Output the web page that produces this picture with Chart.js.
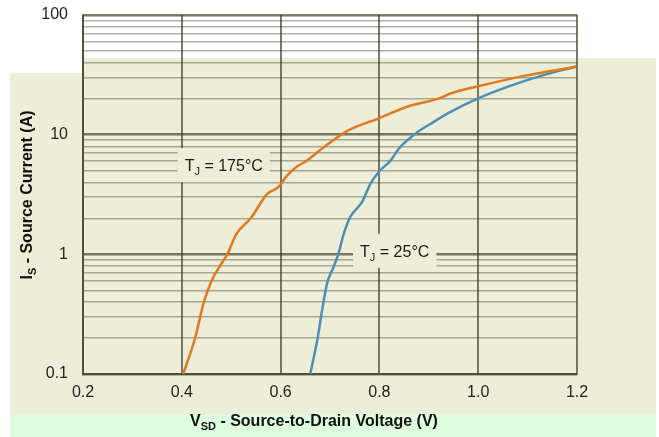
<!DOCTYPE html>
<html>
<head>
<meta charset="utf-8">
<script src="https://cdn.jsdelivr.net/npm/chart.js@4.4.1/dist/chart.umd.min.js"></script>
<style>
  html, body { margin: 0; padding: 0; background: #fff; }
  #wrap { width: 659px; height: 437px; }
</style>
</head>
<body>
<div id="wrap"><canvas id="chart" width="659" height="437"></canvas></div>
<script>
// values
const voltage175 = [0.403, 0.427, 0.444, 0.461, 0.478, 0.491, 0.511, 0.539, 0.573, 0.596, 0.610, 0.630, 0.654, 0.688, 0.738, 0.799, 0.856, 0.924, 0.944, 1.002, 1.093, 1.198];
const current175 = [0.1, 0.20, 0.39, 0.61, 0.81, 0.98, 1.49, 1.99, 3.2, 3.66, 4.4, 5.3, 6.1, 7.9, 10.9, 13.7, 17.1, 20.3, 22.1, 25.5, 31, 37];

const voltage25 = [0.660, 0.674, 0.684, 0.694, 0.707, 0.717, 0.728, 0.741, 0.765, 0.782, 0.799, 0.823, 0.840, 0.873, 0.910, 0.944, 1.002, 1.059, 1.127, 1.198];
const current25 = [0.1, 0.19, 0.34, 0.57, 0.78, 1.01, 1.49, 2.05, 2.74, 3.9, 4.9, 6.1, 7.7, 10.2, 12.8, 15.5, 20.3, 25.1, 31, 37];

const xTickValues = [0.2, 0.4, 0.6, 0.8, 1.0, 1.2];
const xTickLabels = ['0.2', '0.4', '0.6', '0.8', '1.0', '1.2'];
const yTickValues = [0.1, 0.2, 0.3, 0.4, 0.5, 0.6, 0.7, 0.8, 0.9,
                     1, 2, 3, 4, 5, 6, 7, 8, 9,
                     10, 20, 30, 40, 50, 60, 70, 80, 90, 100];
const yTickLabels = { 0.1: '0.1', 1: '1', 10: '10', 100: '100' };

const annotations = [
  { x: 0.485, y: 5.56, main: 'T', sub: 'J', rest: ' = 175°C' },
  { x: 0.831, y: 1.07, main: 'T', sub: 'J', rest: ' = 25°C' }
];

const BEIGE = '#eeeed8';
const FONT = '"Liberation Sans", Arial, sans-serif';
const MAJOR = 'rgba(60,60,40,0.68)';
const MINOR = 'rgba(60,60,40,0.40)';

function isDecade(v) {
  const l = Math.log10(v);
  return Math.abs(l - Math.round(l)) < 1e-6;
}

// draws main text + subscript + rest, returns width (or just measures)
function drawSubText(ctx, x, y, main, sub, rest, size, bold, measureOnly) {
  const w = bold ? 'bold ' : '';
  const subSize = Math.round(size * 0.68);
  ctx.font = `${w}${size}px ${FONT}`;
  const w1 = ctx.measureText(main).width;
  const w3 = ctx.measureText(rest).width;
  ctx.font = `${w}${subSize}px ${FONT}`;
  const w2 = ctx.measureText(sub).width;
  if (!measureOnly) {
    ctx.textAlign = 'left';
    ctx.textBaseline = 'alphabetic';
    ctx.font = `${w}${size}px ${FONT}`;
    ctx.fillText(main, x, y);
    ctx.font = `${w}${subSize}px ${FONT}`;
    ctx.fillText(sub, x + w1, y + size * 0.27);
    ctx.font = `${w}${size}px ${FONT}`;
    ctx.fillText(rest, x + w1 + w2, y);
  }
  return w1 + w2 + w3;
}

const backdrop = {
  id: 'backdrop',
  beforeDraw(chart) {
    const ctx = chart.ctx;
    ctx.save();
    ctx.fillStyle = '#ffffff';
    ctx.fillRect(0, 0, chart.width, chart.height);
    ctx.fillStyle = BEIGE;
    ctx.fillRect(10, 73, 646, 342);
    ctx.fillRect(83, 58, 573, 16);
    ctx.fillStyle = '#defcde';
    ctx.fillRect(10, 415, 646, 22);
    ctx.restore();
  }
};

const labels = {
  id: 'labels',
  beforeDatasetsDraw(chart) {
    const ctx = chart.ctx;
    const xs = chart.scales.x, ys = chart.scales.y;
    ctx.save();
    annotations.forEach(a => {
      const cx = xs.getPixelForValue(a.x);
      const cy = ys.getPixelForValue(a.y);
      const tw = drawSubText(ctx, 0, 0, a.main, a.sub, a.rest, 16, false, true);
      ctx.fillStyle = BEIGE;
      ctx.fillRect(cx - tw / 2 - 7, cy - 17, tw + 14, 34);
      ctx.fillStyle = '#1a1a1a';
      drawSubText(ctx, cx - tw / 2, cy + 6, a.main, a.sub, a.rest, 16, false, false);
    });
    ctx.restore();
  },
  afterDraw(chart) {
    const ctx = chart.ctx;
    ctx.save();
    ctx.fillStyle = '#111';
    // x title
    drawSubText(ctx, 190, 426, 'V', 'SD', ' - Source-to-Drain Voltage (V)', 16, true, false);
    // y title
    const th = drawSubText(ctx, 0, 0, 'I', 'S', ' - Source Current (A)', 16, true, true);
    ctx.translate(32, 195);
    ctx.rotate(-Math.PI / 2);
    drawSubText(ctx, -th / 2, 0, 'I', 'S', ' - Source Current (A)', 16, true, false);
    ctx.restore();
  }
};

new Chart(document.getElementById('chart'), {
  type: 'line',
  data: {
    datasets: [{
      label: 'TJ = 175°C',
      data: voltage175.map((v, i) => ({ x: v, y: current175[i] })),
      borderColor: '#e07a1f',
      borderWidth: 2.5,
      pointRadius: 0,
      cubicInterpolationMode: 'monotone',
      fill: false
    }, {
      label: 'TJ = 25°C',
      data: voltage25.map((v, i) => ({ x: v, y: current25[i] })),
      borderColor: '#4b8fb6',
      borderWidth: 2.5,
      pointRadius: 0,
      cubicInterpolationMode: 'monotone',
      fill: false
    }]
  },
  options: {
    responsive: false,
    animation: false,
    layout: { padding: { left: 0, top: 15, right: 82, bottom: 0 } },
    plugins: {
      legend: { display: false },
      tooltip: { enabled: false }
    },
    scales: {
      x: {
        type: 'linear',
        min: 0.2,
        max: 1.2,
        afterBuildTicks: scale => { scale.ticks = xTickValues.map(v => ({ value: v })); },
        afterFit: scale => { scale.height = 63; scale.paddingLeft = 0; scale.paddingRight = 0; },
        grid: { color: MAJOR, lineWidth: 2, drawTicks: false },
        border: { color: MAJOR, width: 2 },
        ticks: {
          autoSkip: false,
          maxRotation: 0,
          padding: 9,
          color: '#222',
          font: { family: FONT, size: 16 },
          callback: (v, i) => xTickLabels[i]
        }
      },
      y: {
        type: 'logarithmic',
        min: 0.1,
        max: 100,
        afterBuildTicks: scale => { scale.ticks = yTickValues.map(v => ({ value: v })); },
        afterFit: scale => { scale.width = 83; scale.paddingTop = 0; scale.paddingBottom = 0; },
        grid: {
          drawTicks: false,
          color: c => isDecade(c.tick.value) ? MAJOR : MINOR,
          lineWidth: c => isDecade(c.tick.value) ? 2.5 : 1.5
        },
        border: { color: MAJOR, width: 2 },
        ticks: {
          autoSkip: false,
          padding: 15,
          color: '#222',
          font: { family: FONT, size: 16 },
          callback: v => yTickLabels[v] || ''
        }
      }
    }
  },
  plugins: [backdrop, labels]
});
</script>
</body>
</html>
